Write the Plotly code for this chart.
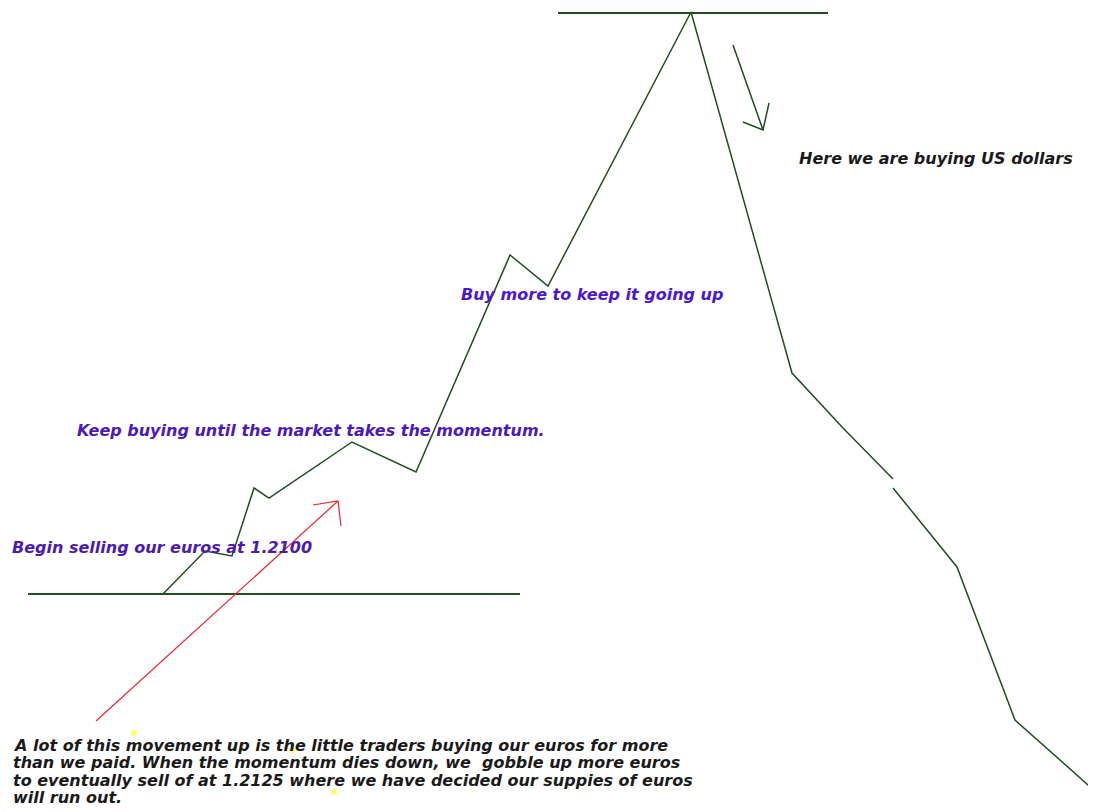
import plotly.graph_objects as go

# Price path (time position, price level in chart units; None = gap in the line)
price_x = [163, 205, 232, 254, 269, 352, 416, 510, 548, 691, 792, 843, 893, None, 893, 957, 1015, 1096]
price_y = [594, 551, 556, 488, 498, 442, 472, 255, 286, 12, 373, 428, 479, None, 488, 567, 720, 792]

# Horizontal levels
support_x = [28, 520]
support_y = [594, 594]
top_x = [558, 828]
top_y = [13, 13]

# Red arrow (shaft + head)
red_x = [96, 338, None, 313, 338, 341]
red_y = [721, 501, None, 505, 501, 526]

# Green down arrow (shaft + head)
down_x = [733, 763, None, 743, 763, 769]
down_y = [45, 130, None, 122, 130, 103]

# Yellow dots
dot_x = [134, 292, 334]
dot_y = [733, 750, 792]

# Labels
purple_labels = ["Begin selling our euros at 1.2100",
                 "Keep buying until the market takes the momentum.",
                 "Buy more to keep it going up"]
purple_x = [10, 75, 459]
purple_y = [547, 430, 294]
purple_col = ["#4a1bb0", "#4a1bb8", "#4b18d2"]

dollar_label = "Here we are buying US dollars"
dollar_x, dollar_y = 797, 158

note_lines = ["A lot of this movement up is the little traders buying our euros for more",
              "than we paid. When the momentum dies down, we  gobble up more euros",
              "to eventually sell of at 1.2125 where we have decided our suppies of euros",
              "will run out."]
note_x = 12
note_y = [745, 762.5, 780, 797.5]

GREEN = "#1f4f1f"
OFF = 8  # page body margin compensation

fig = go.Figure()
fig.add_trace(go.Scatter(x=support_x, y=support_y, mode="lines",
                         line=dict(color=GREEN, width=2), hoverinfo="skip"))
fig.add_trace(go.Scatter(x=top_x, y=top_y, mode="lines",
                         line=dict(color=GREEN, width=2), hoverinfo="skip"))
fig.add_trace(go.Scatter(x=price_x, y=price_y, mode="lines", connectgaps=False,
                         line=dict(color=GREEN, width=1.5), hoverinfo="skip"))
fig.add_trace(go.Scatter(x=down_x, y=down_y, mode="lines",
                         line=dict(color=GREEN, width=1.5), hoverinfo="skip"))
fig.add_trace(go.Scatter(x=red_x, y=red_y, mode="lines",
                         line=dict(color="#e8262a", width=1.2), hoverinfo="skip"))
fig.add_trace(go.Scatter(x=dot_x, y=dot_y, mode="markers",
                         marker=dict(color="#ffff66", size=6), hoverinfo="skip"))

FONT = "DejaVu Sans, Verdana, sans-serif"
for t, x, y, c in zip(purple_labels, purple_x, purple_y, purple_col):
    fig.add_annotation(x=x, y=y, text=t, showarrow=False, xanchor="left", yanchor="middle",
                       font=dict(family=FONT, size=16, color=c, weight="bold", style="italic"))
fig.add_annotation(x=dollar_x, y=dollar_y, text=dollar_label, showarrow=False,
                   xanchor="left", yanchor="middle",
                   font=dict(family=FONT, size=16, color="#1a1a1a", weight="bold", style="italic"))
for t, y in zip(note_lines, note_y):
    fig.add_annotation(x=note_x, y=y, text=t, showarrow=False, xanchor="left", yanchor="middle",
                       height=17, borderpad=0,
                       font=dict(family=FONT, size=16, color="#1a1a1a", weight="bold", style="italic"))

fig.update_layout(
    width=1096 - OFF, height=812 - OFF,
    margin=dict(l=0, r=0, t=0, b=0),
    paper_bgcolor="white", plot_bgcolor="white",
    showlegend=False,
    xaxis=dict(range=[OFF, 1096], visible=False, fixedrange=True),
    yaxis=dict(range=[812, OFF], visible=False, fixedrange=True),
)
fig.write_html("out.html")
